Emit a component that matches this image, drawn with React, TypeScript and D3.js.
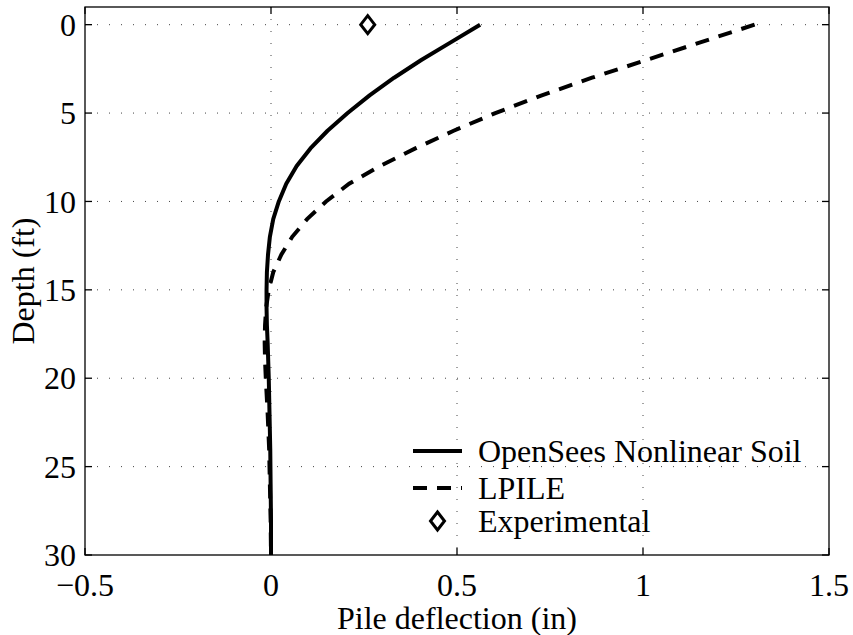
import React from "react";
import * as d3 from "d3";

const openseesDepth = [0, 1, 2, 3, 4, 5, 6, 7, 8, 9, 10, 11, 12, 13, 14, 15, 16, 17, 18, 20, 22, 24, 26, 28, 30];
const openseesDefl = [0.562, 0.483, 0.404, 0.331, 0.265, 0.206, 0.152, 0.106, 0.069, 0.041, 0.021, 0.006, -0.003, -0.008, -0.011, -0.012, -0.012, -0.011, -0.009, -0.006, -0.004, -0.002, -0.001, 0, 0];

const lpileDepth = [0, 1, 2, 3, 4, 5, 6, 7, 8, 9, 10, 11, 12, 13, 14, 15, 16, 17, 18, 19, 20, 22, 24, 26, 28, 30];
const lpileDefl = [1.30, 1.154, 1.009, 0.863, 0.728, 0.603, 0.491, 0.388, 0.293, 0.210, 0.148, 0.097, 0.057, 0.028, 0.006, -0.006, -0.013, -0.016, -0.017, -0.016, -0.014, -0.009, -0.005, -0.003, -0.001, 0];

const expDepth = [0];
const expDefl = [0.26];

const xTicks = [-0.5, 0, 0.5, 1, 1.5];
const xTickLabels = ["\u22120.5", "0", "0.5", "1", "1.5"];
const yTicks = [0, 5, 10, 15, 20, 25, 30];

const legendLabels = ["OpenSees Nonlinear Soil", "LPILE", "Experimental"];

const W = 853, H = 635;
const L = 85, R = 829, T = 7, B = 555;
const FONT = "Liberation Serif, Times New Roman, DejaVu Serif, serif";
const FS = 32;

export default function App() {
  const x = d3.scaleLinear().domain([-0.5, 1.5]).range([L, R]);
  const y = d3.scaleLinear().domain([-1, 30]).range([T, B]);

  const line = d3.line<[number, number]>().x(d => x(d[0])).y(d => y(d[1]));
  const osPath = line(openseesDefl.map((v, i) => [v, openseesDepth[i]]))!;
  const lpPath = line(lpileDefl.map((v, i) => [v, lpileDepth[i]]))!;

  const diamond = (cx: number, cy: number) => `M${cx},${cy - 9}L${cx + 7},${cy}L${cx},${cy + 9}L${cx - 7},${cy}Z`;

  const tickLen = 7;
  const legX1 = 413, legX2 = 462, legTX = 478;
  const legY = [451, 488, 521];
  const ts: React.CSSProperties = { fontFamily: FONT, fontSize: FS };

  return (
    <svg width={W} height={H} style={{ position: "absolute", left: 0, top: 0, background: "#fff" }}>
      <rect x={0} y={0} width={W} height={H} fill="#fff" />
      {xTicks.filter(t => t > -0.5 && t < 1.5).map(t => (
        <line key={"gx" + t} x1={x(t)} x2={x(t)} y1={T} y2={B} stroke="#444" strokeWidth={1} strokeDasharray="1,11" />
      ))}
      {yTicks.filter(t => t < 30).map(t => (
        <line key={"gy" + t} x1={L} x2={R} y1={y(t)} y2={y(t)} stroke="#444" strokeWidth={1} strokeDasharray="1,11" />
      ))}
      {xTicks.map(t => (
        <g key={"tx" + t}>
          <line x1={x(t)} x2={x(t)} y1={B} y2={B - tickLen} stroke="#000" strokeWidth={1.3} />
          <line x1={x(t)} x2={x(t)} y1={T} y2={T + tickLen} stroke="#000" strokeWidth={1.3} />
        </g>
      ))}
      {yTicks.map(t => (
        <g key={"ty" + t}>
          <line x1={L} x2={L + tickLen} y1={y(t)} y2={y(t)} stroke="#000" strokeWidth={1.3} />
          <line x1={R} x2={R - tickLen} y1={y(t)} y2={y(t)} stroke="#000" strokeWidth={1.3} />
        </g>
      ))}
      <path d={lpPath} fill="none" stroke="#000" strokeWidth={4} strokeDasharray="14,10" />
      <path d={osPath} fill="none" stroke="#000" strokeWidth={4} strokeLinejoin="round" />
      {expDefl.map((v, i) => (
        <path key={"e" + i} d={diamond(x(v), y(expDepth[i]))} fill="none" stroke="#000" strokeWidth={3} />
      ))}
      <rect x={L} y={T} width={R - L} height={B - T} fill="none" stroke="#000" strokeWidth={1.3} />
      {xTicks.map((t, i) => (
        <text key={"lx" + t} x={x(t)} y={585} dy="0.35em" textAnchor="middle" style={ts}>{xTickLabels[i]}</text>
      ))}
      {yTicks.map(t => (
        <text key={"ly" + t} x={76} y={y(t)} dy="0.35em" textAnchor="end" style={ts}>{t}</text>
      ))}
      <text x={(L + R) / 2} y={618} dy="0.35em" textAnchor="middle" style={ts}>Pile deflection (in)</text>
      <text transform={`translate(23,${(T + B) / 2}) rotate(-90)`} dy="0.35em" textAnchor="middle" style={ts}>Depth (ft)</text>
      <line x1={legX1} x2={legX2} y1={legY[0]} y2={legY[0]} stroke="#000" strokeWidth={4} />
      <line x1={legX1} x2={legX2} y1={legY[1]} y2={legY[1]} stroke="#000" strokeWidth={4} strokeDasharray="14,10" />
      <path d={diamond((legX1 + legX2) / 2, legY[2])} fill="none" stroke="#000" strokeWidth={3} />
      {legendLabels.map((s, i) => (
        <text key={s} x={legTX} y={legY[i]} dy="0.35em" style={ts}>{s}</text>
      ))}
    </svg>
  );
}
